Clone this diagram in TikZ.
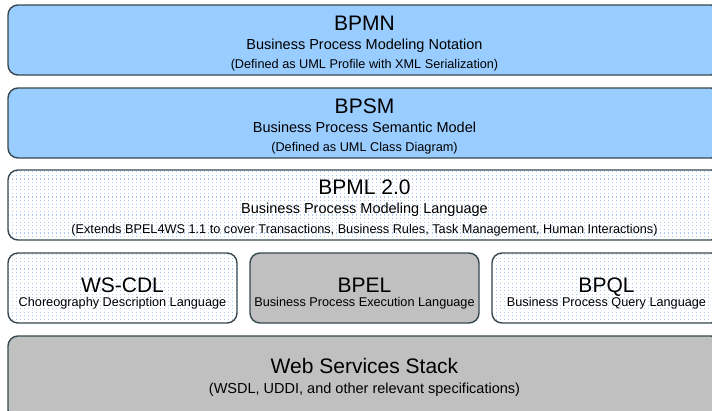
\documentclass[tikz,border=0pt]{standalone}
\usepackage{fontspec}
\setmainfont{Liberation Sans}
\usetikzlibrary{patterns}
\pgfdeclarepatternformonly{bluedots}{\pgfpoint{-1pt}{-1pt}}{\pgfpoint{5pt}{5pt}}{\pgfpoint{4pt}{3.6pt}}{%
  \pgfpathrectangle{\pgfpointorigin}{\pgfpoint{1.3pt}{1.1pt}}\pgfusepath{fill}}
\definecolor{edge}{HTML}{37474F}
\definecolor{bluefill}{HTML}{99CCFF}
\definecolor{grayfill}{HTML}{C0C0C0}
\definecolor{dotcol}{HTML}{A9CDF2}
\tikzset{
  layer/.style={draw=edge, line width=1.4pt, rounded corners=10pt},
  bluebox/.style={layer, fill=bluefill},
  graybox/.style={layer, fill=grayfill},
  dotbox/.style={layer, preaction={fill=white}, preaction={pattern=bluedots, pattern color=dotcol}},
  ttl/.style={anchor=base, inner sep=0pt, font=\fontsize{21}{24}\selectfont},
  sub/.style={anchor=base, inner sep=0pt, font=\fontsize{14.5}{17}\selectfont},
  note/.style={anchor=base, inner sep=0pt, font=\fontsize{12.7}{15}\selectfont},
}
\begin{document}
\begin{tikzpicture}[x=1pt,y=-1pt]
\useasboundingbox (0,0) rectangle (712,410);
\clip (0,0) rectangle (712,410);
% BPMN
\draw[bluebox] (8,5) rectangle (721,75);
\node[ttl] (bpmn) at (364.5,30) {BPMN};
\node[sub] (bpmns) at (364.5,49) {Business Process Modeling Notation};
\node[note] (bpmnn) at (364.5,68) {(Defined as UML Profile with XML Serialization)};
% BPSM
\draw[bluebox] (8,88) rectangle (721,158);
\node[ttl] (bpsm) at (364.5,113) {BPSM};
\node[sub] (bpsms) at (364.5,132) {Business Process Semantic Model};
\node[note] (bpsmn) at (364.5,151) {(Defined as UML Class Diagram)};
% BPML
\draw[dotbox] (8,170) rectangle (721,240);
\node[ttl] (bpml) at (364.5,194) {BPML 2.0};
\node[sub] (bpmls) at (364.5,213) {Business Process Modeling Language};
\node[note] (bpmln) at (364.5,233) {(Extends BPEL4WS 1.1 to cover Transactions, Business Rules, Task Management, Human Interactions)};
% Row 4
\draw[dotbox] (8,253) rectangle (237,323);
\node[ttl] (wscdl) at (122.5,292) {WS-CDL};
\node[note] (wscdls) at (122.5,306) {Choreography Description Language};
\draw[graybox] (250,253) rectangle (479,323);
\node[ttl] (bpel) at (364.5,292) {BPEL};
\node[note] (bpels) at (364.5,306) {Business Process Execution Language};
\draw[dotbox] (492,253) rectangle (721,323);
\node[ttl] (bpql) at (606.5,292) {BPQL};
\node[note] (bpqls) at (606.5,306) {Business Process Query Language};
% Web services
\draw[graybox] (8,336) rectangle (721,420);
\node[ttl] (ws) at (364.5,373) {Web Services Stack};
\node[sub] (wss) at (364.5,393) {(WSDL, UDDI, and other relevant specifications)};
\end{tikzpicture}
\end{document}
